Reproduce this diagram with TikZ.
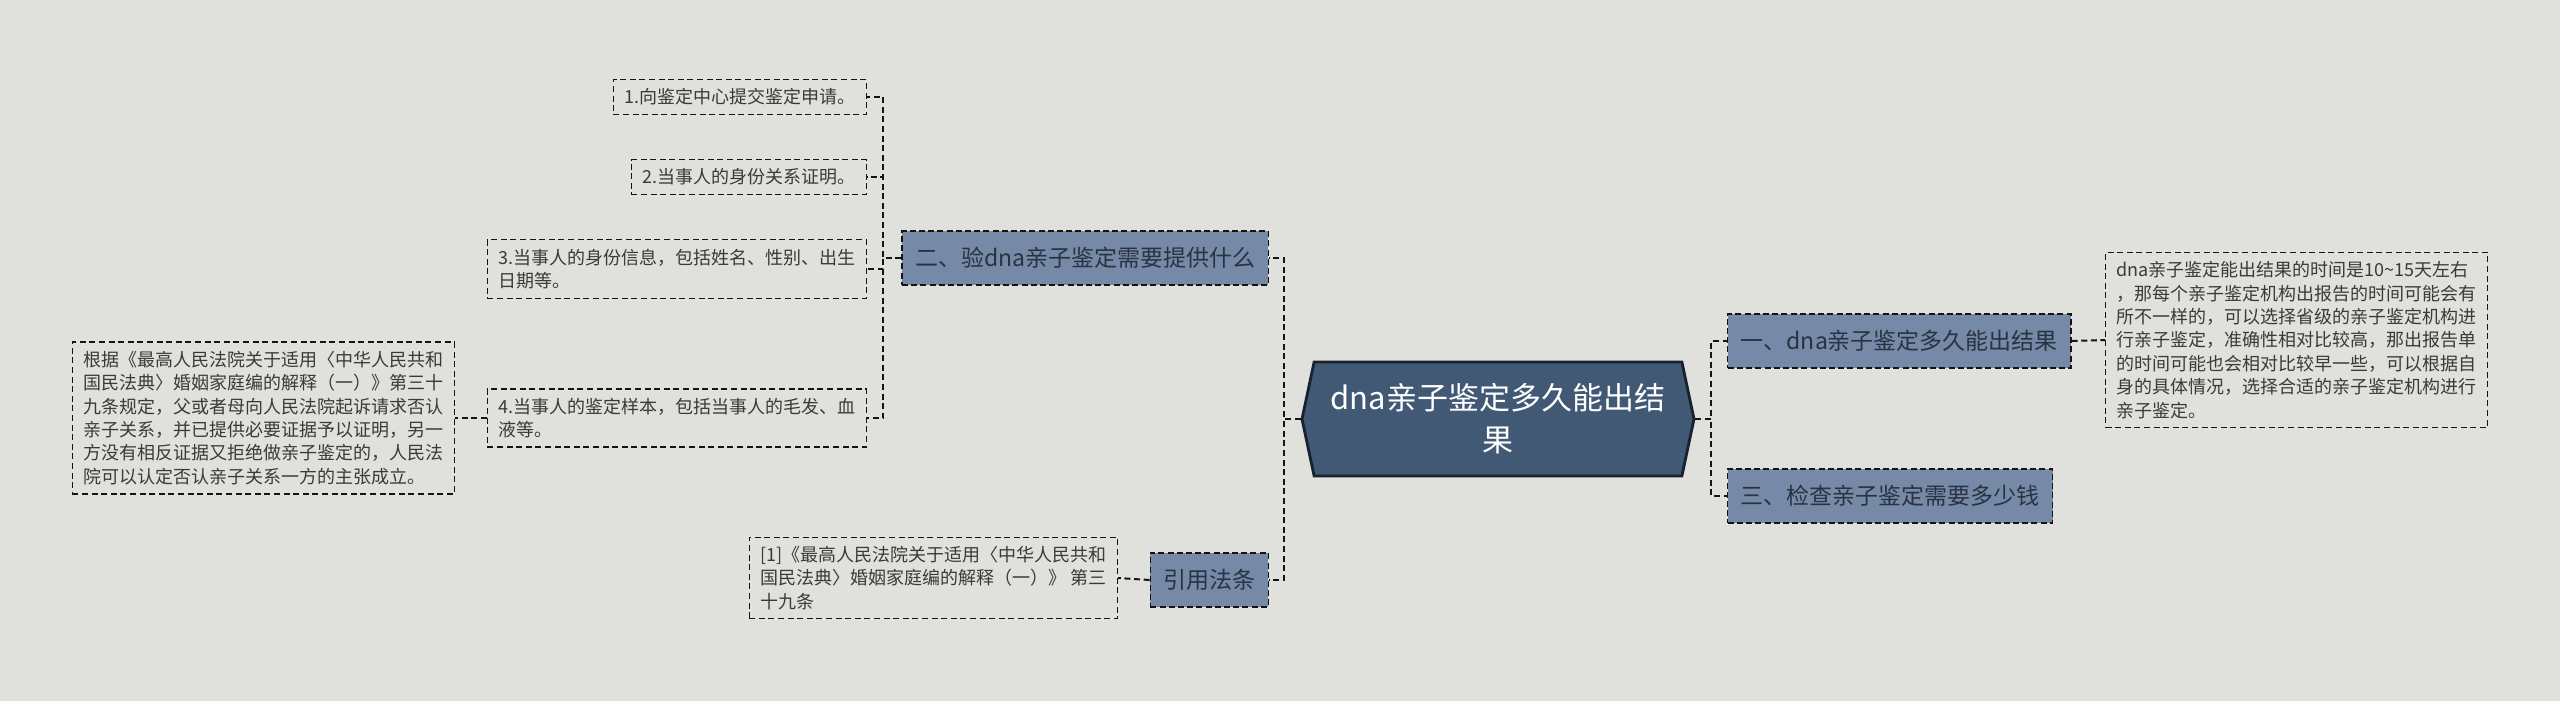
\documentclass[tikz,border=0pt]{standalone}
\usepackage{fontspec}
\setmainfont{Noto Sans CJK SC}
\usepackage{tikz}
\usetikzlibrary{positioning,shapes.symbols}
\definecolor{mmbg}{RGB}{224,225,220}
\definecolor{mmroot}{RGB}{66,89,117}
\definecolor{mmrootedge}{RGB}{24,33,46}
\definecolor{mmtopic}{RGB}{118,137,166}
\definecolor{mmtopictext}{RGB}{40,50,66}
\definecolor{mmleaftext}{RGB}{58,58,58}
\definecolor{mmline}{RGB}{20,20,20}
\tikzset{
  rootbox/.style={shape=signal, signal to=west and east, signal pointer angle=156,
    fill=mmroot, draw=mmrootedge, line width=1.4pt, text=white, align=center,
    font=\fontsize{15.5}{21}\selectfont, minimum width=196pt, minimum height=57pt, inner sep=0pt},
  topicbox/.style={rectangle, fill=mmtopic, draw=mmline, dash pattern=on 3pt off 1.6pt,
    line width=0.7pt, text=mmtopictext, font=\fontsize{11.5}{14}\selectfont,
    inner xsep=6.5pt, minimum height=27pt},
  leafbox/.style={rectangle, draw=mmline, dash pattern=on 3pt off 1.8pt, line width=0.6pt,
    text=mmleaftext, font=\fontsize{9}{11.7}\selectfont, align=left,
    inner xsep=5.5pt, inner ysep=4.5pt},
  link/.style={draw=mmline, dash pattern=on 3pt off 1.8pt, line width=1pt},
}
\begin{document}
\begin{tikzpicture}[x=0.5pt, y=-0.5pt]
\fill[mmbg] (0,0) rectangle (2560,701);
% centre
\node[rootbox] (root) at (1498,419) {dna亲子鉴定多久能出结\\果};
% right side
\node[topicbox, anchor=west] (topicA) at (1727,341) {一、dna亲子鉴定多久能出结果};
\node[topicbox, anchor=west] (topicC) at (1727,496) {三、检查亲子鉴定需要多少钱};
\node[leafbox, anchor=west] (timeNote) at (2105,340) {dna亲子鉴定能出结果的时间是10\textasciitilde15天左右\\，那每个亲子鉴定机构出报告的时间可能会有\\所不一样的，可以选择省级的亲子鉴定机构进\\行亲子鉴定，准确性相对比较高，那出报告单\\的时间可能也会相对比较早一些，可以根据自\\身的具体情况，选择合适的亲子鉴定机构进行\\亲子鉴定。};
% left side
\node[topicbox, anchor=east] (topicB) at (1269,258) {二、验dna亲子鉴定需要提供什么};
\node[topicbox, anchor=east] (topicLaw) at (1269,580) {引用法条};
\node[leafbox, anchor=east] (needOne) at (867,97) {1.向鉴定中心提交鉴定申请。};
\node[leafbox, anchor=east] (needTwo) at (867,177) {2.当事人的身份关系证明。};
\node[leafbox, anchor=east] (needThree) at (867,269) {3.当事人的身份信息，包括姓名、性别、出生\\日期等。};
\node[leafbox, anchor=east] (needFour) at (867,418) {4.当事人的鉴定样本，包括当事人的毛发、血\\液等。};
\node[leafbox, anchor=east] (lawNote) at (455,418) {根据《最高人民法院关于适用〈中华人民共和\\国民法典〉婚姻家庭编的解释（一）》第三十\\九条规定，父或者母向人民法院起诉请求否认\\亲子关系，并已提供必要证据予以证明，另一\\方没有相反证据又拒绝做亲子鉴定的，人民法\\院可以认定否认亲子关系一方的主张成立。};
\node[leafbox, anchor=east] (lawRef) at (1118,578) {[1]《最高人民法院关于适用〈中华人民共和\\国民法典〉婚姻家庭编的解释（一）》 第三\\十九条};
% connectors
\draw[link] (root.east) -- ++(16,0) |- (topicA.west);
\draw[link] (root.east) -- ++(16,0) |- (topicC.west);
\draw[link] (topicA.east) -- (timeNote.west);
\draw[link] (root.west) -- ++(-17,0) |- (topicB.east);
\draw[link] (root.west) -- ++(-17,0) |- (topicLaw.east);
\draw[link] (topicB.west) -- ++(-18,0) |- (needOne.east);
\draw[link] (topicB.west) -- ++(-18,0) |- (needTwo.east);
\draw[link] (topicB.west) -- ++(-18,0) |- (needThree.east);
\draw[link] (topicB.west) -- ++(-18,0) |- (needFour.east);
\draw[link] (needFour.west) -- (lawNote.east);
\draw[link] (topicLaw.west) -- (lawRef.east);
\end{tikzpicture}
\end{document}
